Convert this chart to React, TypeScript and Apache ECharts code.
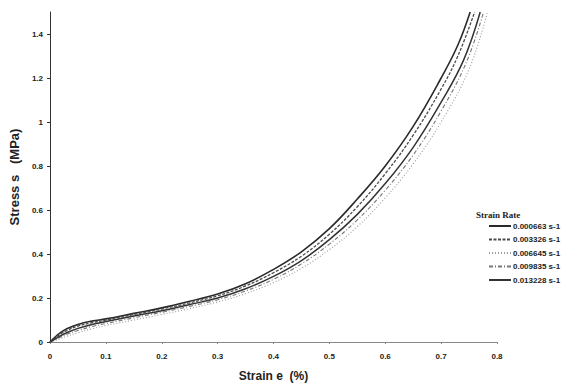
import React, { useEffect, useRef } from "react";
import * as echarts from "echarts";

const rateLabels = ["0.000663 s-1", "0.003326 s-1", "0.006645 s-1", "0.009835 s-1", "0.013228 s-1"];

const curveA: number[][] = [[0,0],[0.01,0.025],[0.02,0.045],[0.03,0.06],[0.05,0.08],[0.075,0.095],[0.1,0.105],[0.15,0.13],[0.2,0.155],[0.25,0.185],[0.3,0.218],[0.35,0.265],[0.4,0.33],[0.45,0.41],[0.5,0.515],[0.55,0.65],[0.6,0.8],[0.65,0.98],[0.7,1.2],[0.73,1.35],[0.752,1.5]];
const curveB: number[][] = [[0,0],[0.01,0.02],[0.02,0.038],[0.03,0.052],[0.05,0.072],[0.075,0.088],[0.1,0.1],[0.15,0.125],[0.2,0.15],[0.25,0.178],[0.3,0.21],[0.35,0.255],[0.4,0.315],[0.45,0.39],[0.5,0.49],[0.55,0.615],[0.6,0.765],[0.65,0.94],[0.7,1.15],[0.73,1.3],[0.76,1.5]];
const curveC: number[][] = [[0,0],[0.01,0.008],[0.02,0.017],[0.03,0.026],[0.05,0.042],[0.075,0.06],[0.1,0.075],[0.15,0.1],[0.2,0.125],[0.25,0.152],[0.3,0.182],[0.35,0.22],[0.4,0.27],[0.45,0.335],[0.5,0.42],[0.55,0.525],[0.6,0.655],[0.65,0.81],[0.7,1.0],[0.75,1.24],[0.783,1.5]];
const curveD: number[][] = [[0,0],[0.01,0.012],[0.02,0.024],[0.03,0.035],[0.05,0.052],[0.075,0.07],[0.1,0.084],[0.15,0.11],[0.2,0.135],[0.25,0.162],[0.3,0.192],[0.35,0.232],[0.4,0.285],[0.45,0.355],[0.5,0.445],[0.55,0.555],[0.6,0.69],[0.65,0.85],[0.7,1.05],[0.745,1.27],[0.776,1.5]];
const curveE: number[][] = [[0,0],[0.01,0.015],[0.02,0.03],[0.03,0.042],[0.05,0.062],[0.075,0.08],[0.1,0.093],[0.15,0.118],[0.2,0.142],[0.25,0.17],[0.3,0.2],[0.35,0.242],[0.4,0.298],[0.45,0.37],[0.5,0.465],[0.55,0.58],[0.6,0.72],[0.65,0.885],[0.7,1.09],[0.74,1.28],[0.77,1.5]];

const curves = [curveA, curveB, curveC, curveD, curveE];
const lineColors = ["#2a2a2a", "#4a4a4a", "#9a9a9a", "#777777", "#333333"];
const lineTypes: any[] = ["solid", [3, 1.5], [1, 2], [4, 2, 1, 2], "solid"];
const lineWidths = [1.6, 1.3, 1.1, 1.1, 1.5];

export default function App() {
  const ref = useRef<HTMLDivElement>(null);
  useEffect(() => {
    if (!ref.current) return;
    const chart = echarts.init(ref.current, null, { renderer: "svg" });
    const labelFont = { fontFamily: "Liberation Sans, Arial, sans-serif", fontWeight: "bold" as const, fontSize: 8, color: "#222" };
    chart.setOption({
      animation: false,
      backgroundColor: "#ffffff",
      title: {
        text: "Strain Rate",
        left: 471,
        top: 205,
        textStyle: { fontFamily: "Liberation Serif, serif", fontWeight: "bold", fontSize: 9, color: "#222" },
      },
      legend: {
        orient: "vertical",
        left: 488,
        top: 222,
        itemWidth: 22,
        itemHeight: 8,
        itemGap: 5.5,
        padding: 0,
        data: rateLabels,
        itemStyle: { opacity: 0 },
        textStyle: { fontFamily: "Liberation Sans, Arial, sans-serif", fontWeight: "bold", fontSize: 8, color: "#222", padding: [0, 0, 0, -3] },
      },
      grid: { left: 44, right: 65, top: 12, bottom: 42, containLabel: false },
      xAxis: {
        type: "value",
        min: 0,
        max: 0.8,
        interval: 0.1,
        name: "Strain e  (%)",
        nameLocation: "middle",
        nameGap: 28,
        nameTextStyle: { fontFamily: "Liberation Sans, Arial, sans-serif", fontWeight: "bold", fontSize: 12, color: "#222" },
        axisLine: { lineStyle: { color: "#888", width: 1 } },
        axisTick: { show: true, length: 2, lineStyle: { color: "#888" } },
        axisLabel: { ...labelFont, margin: 10, formatter: (v: number) => String(Math.round(v * 10) / 10) },
        splitLine: { show: false },
      },
      yAxis: {
        type: "value",
        min: 0,
        max: 1.5,
        interval: 0.2,
        name: "Stress s   (MPa)",
        nameLocation: "middle",
        nameGap: 22,
        nameRotate: 90,
        nameTextStyle: { fontFamily: "Liberation Sans, Arial, sans-serif", fontWeight: "bold", fontSize: 13, color: "#222" },
        axisLine: { show: true, lineStyle: { color: "#333", width: 1 } },
        axisTick: { show: true, length: 3, lineStyle: { color: "#333" } },
        axisLabel: { ...labelFont, margin: 7, showMaxLabel: false, formatter: (v: number) => String(Math.round(v * 10) / 10) },
        splitLine: { show: false },
      },
      series: curves.map((d, i) => ({
        name: rateLabels[i],
        type: "line",
        data: d,
        smooth: 0.4,
        showSymbol: false,
        symbol: "none",
        clip: true,
        color: lineColors[i],
        lineStyle: { color: lineColors[i], type: lineTypes[i], width: lineWidths[i] },
      })),
    });
    return () => chart.dispose();
  }, []);
  return <div ref={ref} style={{ width: 562, height: 387, position: "absolute", left: 0, top: 0 }} />;
}
